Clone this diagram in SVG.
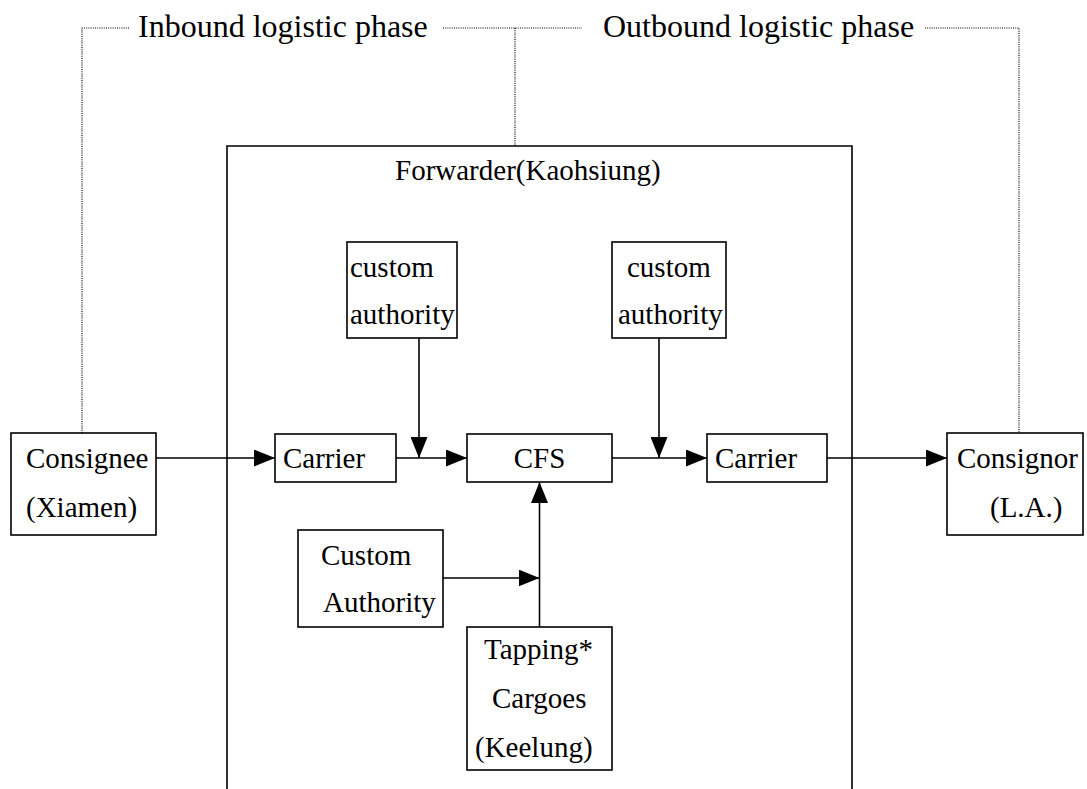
<svg xmlns="http://www.w3.org/2000/svg" width="1087" height="789" viewBox="0 0 1087 789">
<style>
.box{fill:#fff;stroke:#000;stroke-width:1.6}
.t{font-family:"Liberation Serif",serif;font-size:29px;fill:#000}
.tt{font-family:"Liberation Serif",serif;font-size:32px;fill:#000}
.dot{fill:none;stroke:#000;stroke-width:1.2;stroke-dasharray:1 1.2}
.ln{fill:none;stroke:#000;stroke-width:1.6}
</style>
<defs>
<marker id="ah" markerWidth="21" markerHeight="17" refX="21" refY="8.5" orient="auto" markerUnits="userSpaceOnUse">
<path d="M0,0 L21,8.5 L0,17 Z" fill="#000"/>
</marker>
</defs>
<rect width="1087" height="789" fill="#fff"/>
<g id="phases">
<path class="dot" d="M82,433 V28 H130"/>
<path class="dot" d="M443,28 H582 M515,28 V146"/>
<path class="dot" d="M925,28 H1019 V433"/>
<text class="tt" x="138" y="37">Inbound logistic phase</text>
<text class="tt" x="603" y="37">Outbound logistic phase</text>
</g>
<g id="forwarder">
<path class="ln" d="M227,800 V146 H852 V800" stroke-width="2"/>
<text class="t" x="395" y="180">Forwarder(Kaohsiung)</text>
</g>
<g id="consignee">
<rect class="box" x="11" y="433" width="145" height="102"/>
<text class="t" x="26" y="468">Consignee</text>
<text class="t" x="26" y="517">(Xiamen)</text>
</g>
<g id="consignor">
<rect class="box" x="947" y="433" width="136" height="102"/>
<text class="t" x="957" y="468">Consignor</text>
<text class="t" x="990" y="517">(L.A.)</text>
</g>
<g id="carrier1">
<rect class="box" x="275" y="434" width="121" height="48"/>
<text class="t" x="283" y="468">Carrier</text>
</g>
<g id="cfs">
<rect class="box" x="467" y="434" width="145" height="48"/>
<text class="t" x="539.5" y="468" text-anchor="middle">CFS</text>
</g>
<g id="carrier2">
<rect class="box" x="707" y="434" width="120" height="48"/>
<text class="t" x="715" y="468">Carrier</text>
</g>
<g id="custom1">
<rect class="box" x="347" y="242" width="110" height="96"/>
<text class="t" x="350" y="277">custom</text>
<text class="t" x="350" y="324">authority</text>
</g>
<g id="custom2">
<rect class="box" x="612" y="242" width="114" height="96"/>
<text class="t" x="627" y="277">custom</text>
<text class="t" x="618" y="324">authority</text>
</g>
<g id="custom3">
<rect class="box" x="298" y="530" width="145" height="97"/>
<text class="t" x="321" y="565">Custom</text>
<text class="t" x="323" y="612">Authority</text>
</g>
<g id="tapping">
<rect class="box" x="467" y="627" width="145" height="143"/>
<text class="t" x="484" y="659">Tapping*</text>
<text class="t" x="492" y="708">Cargoes</text>
<text class="t" x="475" y="757">(Keelung)</text>
</g>
<g id="connectors">
<path class="ln" d="M156,458 H275" marker-end="url(#ah)"/>
<path class="ln" d="M396,458 H467" marker-end="url(#ah)"/>
<path class="ln" d="M419,338 V458" marker-end="url(#ah)"/>
<path class="ln" d="M612,458 H707" marker-end="url(#ah)"/>
<path class="ln" d="M659,338 V458" marker-end="url(#ah)"/>
<path class="ln" d="M827,458 H947" marker-end="url(#ah)"/>
<path class="ln" d="M539.5,627 V482" marker-end="url(#ah)"/>
<path class="ln" d="M443,578 H539.5" marker-end="url(#ah)"/>
</g>
</svg>
